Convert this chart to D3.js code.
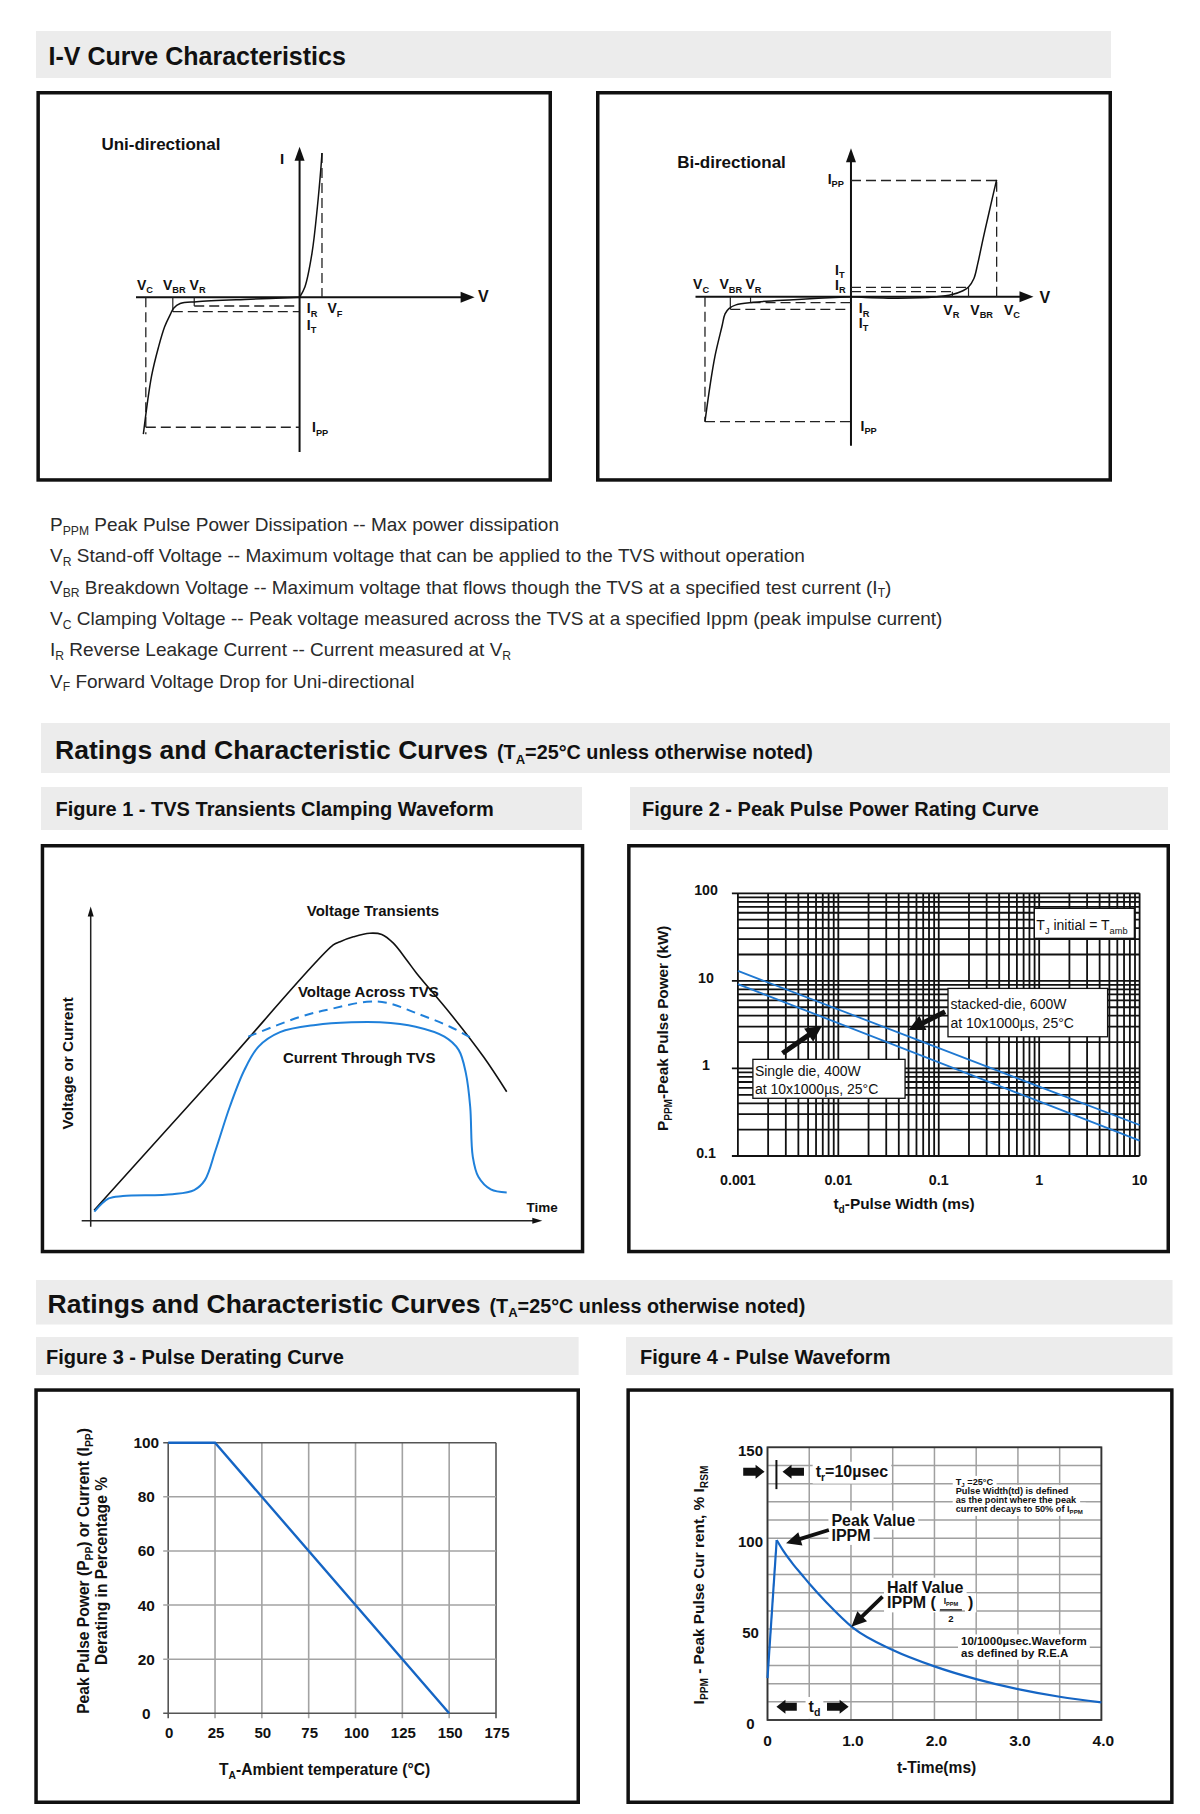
<!DOCTYPE html>
<html>
<head>
<meta charset="utf-8">
<title>TVS I-V Curve Characteristics and Ratings</title>
<script src="https://cdn.jsdelivr.net/npm/d3@7/dist/d3.min.js"></script>
<style>
html,body{margin:0;padding:0;background:#ffffff;}
svg{display:block;}
</style>
</head>
<body>
<svg id="chart" width="1200" height="1814" viewBox="0 0 1200 1814"></svg>
<script>
// ================= DATA =================
// Definition list (text, [string, isSubscript])
const definitionLines = [
  [["P"],["PPM",1],[" Peak Pulse Power Dissipation -- Max power dissipation"]],
  [["V"],["R",1],[" Stand-off Voltage -- Maximum voltage that can be applied to the TVS without operation"]],
  [["V"],["BR",1],[" Breakdown Voltage -- Maximum voltage that flows though the TVS at a specified test current (I"],["T",1],[")"]],
  [["V"],["C",1],[" Clamping Voltage -- Peak voltage measured across the TVS at a specified Ippm (peak impulse current)"]],
  [["I"],["R",1],[" Reverse Leakage Current -- Current measured at V"],["R",1]],
  [["V"],["F",1],[" Forward Voltage Drop for Uni-directional"]]
];

// I-V uni-directional schematic, [V, I] in schematic units
const uniForwardCurve = [[0,0],[0.33,0.69],[0.76,2.86],[1.09,5.86],[1.31,8.44],[1.37,9.33]];
const uniReverseCurve = [[0,0],[-3,-0.12],[-6.3,-0.28],[-7.3,-0.4],[-7.7,-0.7],[-7.9,-1.1],[-8.25,-1.9],[-8.62,-3.2],[-9.05,-5.1],[-9.55,-8.85]];
const uniVoltages = [-9.4, -7.75, -6.44, 1.37];   // VC, VBR, VR, VF
const uniCurrents = [-8.4, -0.93, -0.56, 9.33];   // IPP, IT, IR, IF

// I-V bi-directional schematic
const biRightCurve = [[0,0],[3,-0.1],[5.5,0],[6.5,0.15],[7.2,0.4],[7.56,0.65],[7.9,1.2],[8.15,2.2],[8.5,3.9],[8.87,5.6],[9.2,7.1],[9.37,7.85]];
const biLeftCurve = [[0,0],[-3.7,-0.2],[-6.3,-0.38],[-7.4,-0.55],[-7.85,-0.8],[-8.1,-1.15],[-8.3,-2.0],[-8.75,-4.0],[-9.07,-6.0],[-9.39,-8.39]];
const biVoltages = [-9.39, -7.76, -6.46, 6.52, 7.56, 9.37]; // VC-, VBR-, VR-, VR+, VBR+, VC+
const biCurrents = [-8.39, -0.85, -0.4, 0.34, 0.63, 7.8];    // IPP-, IT-, IR-, IR+, IT+, IPP+

// Figure 1 - clamping waveform [time %, level %]
const voltageTransient = [[0.8,3.5],[30,49.7],[56.5,91.7],[58.1,92.8],[61.2,94.4],[65.0,95.6],[67.8,95.2],[70.5,92.3],[73.6,86.7],[75.9,82.3],[83.7,69.0],[91.5,54.5],[96.9,42.9]];
const voltageAcrossTVS = [[36.7,61.2],[48.8,67.8],[56.5,70.6],[64.3,72.8],[68.9,72.5],[75.9,69.0],[83.7,64.5],[88.7,60.7]];
const currentThroughTVS = [[0.84,3.0],[4.2,7.4],[7.5,8.2],[19.1,8.8],[24.1,10.2],[26.6,13.5],[29.1,23.5],[32.4,37.9],[35.8,50.1],[39.1,57.9],[44.1,62.7],[52.4,65.1],[60.7,66.0],[67.4,66.0],[75.7,64.5],[82.4,61.2],[85.7,56.8],[87.4,49.0],[88.4,37.9],[89.0,21.3],[90.3,14.6],[93.2,10.4],[96.9,9.4]];

// Figure 2 - peak pulse power rating (ms, kW)
const pulseWidthTicks = [0.001, 0.01, 0.1, 1, 10];
const pulseWidthLabels = ["0.001", "0.01", "0.1", "1", "10"];
const powerTicks = [0.1, 1, 10, 100];
const powerLabels = ["0.1", "1", "10", "100"];
const stackedDie = [[0.001,13],[1,0.62],[10,0.226]];
const singleDie = [[0.001,9.2],[1,0.42],[10,0.15]];

// Figure 3 - derating (°C, %)
const tempTicks = [0,25,50,75,100,125,150,175];
const percentTicks = [0,20,40,60,80,100];
const derating = [[0,100],[25,100],[150,0]];

// Figure 4 - pulse waveform (ms, %)
const timeTicks = [0,1,2,3,4];
const timeLabels = ["0","1.0","2.0","3.0","4.0"];
const timeGrid = [0,0.5,1,1.5,2,2.5,3,3.5,4];
const currentTicks = [0,50,100,150];
const currentGrid = [0,10,20,30,40,50,60,70,80,90,100,110,120,130,140,150];
const waveRise = [[0,23],[0.11,99]];
const waveDecay = [[0.11,99],[0.19,93],[0.31,85.5],[0.41,80],[0.51,74.5],[0.71,64.5],[1.03,50.5],[1.5,38.5],[2.0,29.5],[2.5,22.5],[3.0,17],[3.5,12.8],[4.0,9.7]];

// ================= DRAWING =================
const svg = d3.select('#chart');
const FONT = '"Liberation Sans", Arial, Helvetica, sans-serif';
const INK = '#111';
const BLUE1 = '#1f80da';
const BLUE2 = '#1f78d1';
const BLUE3 = '#1565c4';

function label(g, x, y, parts, size, o = {}) {
  const t = g.append('text')
    .attr('x', x).attr('y', y)
    .attr('font-family', FONT)
    .attr('font-size', size)
    .attr('font-weight', o.weight || 'bold')
    .attr('fill', o.fill || INK)
    .attr('text-anchor', o.anchor || 'start');
  if (o.rotate) t.attr('transform', `rotate(${o.rotate},${x},${y})`);
  if (typeof parts === 'string') parts = [[parts]];
  const subSize = size * (o.subScale || 0.66);
  const shift = size * (o.subShift || 0.24);
  let down = false;
  parts.forEach(p => {
    const ts = t.append('tspan').text(p[0]);
    if (p[1]) {
      ts.attr('font-size', subSize);
      if (!down) { ts.attr('dy', shift); down = true; }
    } else if (down) { ts.attr('dy', -shift); down = false; }
  });
  return t;
}
function grayBar(x0, y0, x1, y1) {
  svg.append('rect').attr('x', x0).attr('y', y0).attr('width', x1 - x0).attr('height', y1 - y0).attr('fill', '#ececec');
}
function frame(x0, y0, x1, y1) {
  svg.append('rect').attr('x', x0 + 1.75).attr('y', y0 + 1.75).attr('width', x1 - x0 - 3.5).attr('height', y1 - y0 - 3.5)
    .attr('fill', '#fff').attr('stroke', INK).attr('stroke-width', 3.5);
}
function seg(g, x1, y1, x2, y2, stroke, w, dash) {
  const l = g.append('line').attr('x1', x1).attr('y1', y1).attr('x2', x2).attr('y2', y2)
    .attr('stroke', stroke).attr('stroke-width', w);
  if (dash) l.attr('stroke-dasharray', dash);
  return l;
}
function tri(g, x, y, dir, L, hw) {
  let pts;
  if (dir === 'right') pts = [[x, y], [x - L, y - hw], [x - L, y + hw]];
  else pts = [[x, y], [x - hw, y + L], [x + hw, y + L]];
  g.append('polygon').attr('points', pts.map(p => p.join(',')).join(' ')).attr('fill', INK);
}
function blockArrow(g, x1, y1, x2, y2, sw, hl, hw) {
  const dx = x2 - x1, dy = y2 - y1, L = Math.hypot(dx, dy), ux = dx / L, uy = dy / L, px = -uy, py = ux;
  const bx = x2 - ux * hl, by = y2 - uy * hl;
  const pts = [[x1 + px * sw / 2, y1 + py * sw / 2], [bx + px * sw / 2, by + py * sw / 2], [bx + px * hw, by + py * hw], [x2, y2],
    [bx - px * hw, by - py * hw], [bx - px * sw / 2, by - py * sw / 2], [x1 - px * sw / 2, y1 - py * sw / 2]];
  g.append('polygon').attr('points', pts.map(p => p.join(',')).join(' ')).attr('fill', INK);
}

// ---------- Header 1 ----------
grayBar(36, 31, 1111, 78);
label(svg, 48.5, 65, 'I-V Curve Characteristics', 25);

// ---------- I-V uni-directional ----------
frame(36.4, 91, 552, 481.7);
(function () {
  const g = svg.append('g');
  const xs = d3.scaleLinear().domain([-10, 10.7]).range([136, 474.6]);
  const ys = d3.scaleLinear().domain([-10, 9.74]).range([452, 146.7]);
  const [VC, VBR, VR, VF] = uniVoltages;
  const [IPP, IT, IR, IF] = uniCurrents;
  const dsh = '10,5';
  seg(g, xs(-10), ys(0), xs(10.7) - 12, ys(0), INK, 2);
  seg(g, xs(0), ys(-10), xs(0), ys(9.74) + 12, INK, 2);
  tri(g, xs(10.7), ys(0), 'right', 14, 5.5);
  tri(g, xs(0), ys(9.74), 'up', 14, 5);
  seg(g, xs(VC), ys(0), xs(VC), ys(uniReverseCurve[uniReverseCurve.length - 1][1]), '#222', 1.3, dsh);
  seg(g, xs(VC), ys(IPP), xs(0), ys(IPP), '#222', 1.3, dsh);
  seg(g, xs(VF), ys(IF), xs(VF), ys(0), '#222', 1.3, dsh);
  seg(g, xs(VBR), ys(0), xs(VBR), ys(IT), '#222', 1.2);
  seg(g, xs(VBR), ys(IT), xs(0), ys(IT), '#222', 1.3, dsh);
  seg(g, xs(VR), ys(0), xs(VR), ys(IR), '#222', 1.2);
  seg(g, xs(VR), ys(IR), xs(0), ys(IR), '#222', 1.3, dsh);
  const line = d3.line().x(d => xs(d[0])).y(d => ys(d[1])).curve(d3.curveCatmullRom.alpha(0.5));
  g.append('path').attr('d', line(uniForwardCurve)).attr('fill', 'none').attr('stroke', INK).attr('stroke-width', 1.5);
  g.append('path').attr('d', line(uniReverseCurve)).attr('fill', 'none').attr('stroke', INK).attr('stroke-width', 1.5);
  label(g, 101.4, 150, 'Uni-directional', 17);
  label(g, 280, 164, 'I', 15);
  label(g, 478, 302, 'V', 16);
  label(g, 137, 290, [["V"], ["C", 1]], 14);
  label(g, 163, 290, [["V"], ["BR", 1]], 14);
  label(g, 189.6, 290, [["V"], ["R", 1]], 14);
  label(g, 306.8, 313.3, [["I"], ["R", 1]], 14);
  label(g, 327.5, 313.3, [["V"], ["F", 1]], 14);
  label(g, 306.8, 330, [["I"], ["T", 1]], 14);
  label(g, 312, 432.3, [["I"], ["PP", 1]], 14);
})();

// ---------- I-V bi-directional ----------
frame(596, 91, 1112, 481.7);
(function () {
  const g = svg.append('g');
  const xs = d3.scaleLinear().domain([-10, 11.74]).range([695.5, 1033.5]);
  const ys = d3.scaleLinear().domain([-10, 9.96]).range([445.7, 148.3]);
  const [VCn, VBRn, VRn, VRp, VBRp, VCp] = biVoltages;
  const [IPPn, ITn, IRn, IRp, ITp, IPPp] = biCurrents;
  const dsh = '10,5';
  seg(g, xs(-10), ys(0), xs(11.74) - 12, ys(0), INK, 2);
  seg(g, xs(0), ys(-10), xs(0), ys(9.96) + 12, INK, 2);
  tri(g, xs(11.74), ys(0), 'right', 14, 5.5);
  tri(g, xs(0), ys(9.96), 'up', 14, 5);
  seg(g, xs(VCn), ys(0), xs(VCn), ys(IPPn), '#222', 1.3, dsh);
  seg(g, xs(VCn), ys(IPPn), xs(0), ys(IPPn), '#222', 1.3, dsh);
  seg(g, xs(VBRn), ys(0), xs(VBRn), ys(ITn), '#222', 1.2);
  seg(g, xs(VBRn), ys(ITn), xs(0), ys(ITn), '#222', 1.3, dsh);
  seg(g, xs(VRn), ys(0), xs(VRn), ys(IRn), '#222', 1.2);
  seg(g, xs(VRn), ys(IRn), xs(0), ys(IRn), '#222', 1.3, dsh);
  seg(g, xs(VCp), ys(0), xs(VCp), ys(IPPp), '#222', 1.3, dsh);
  seg(g, xs(0), ys(IPPp), xs(VCp), ys(IPPp), '#222', 1.3, dsh);
  seg(g, xs(VBRp), ys(0), xs(VBRp), ys(ITp), '#222', 1.2);
  seg(g, xs(0), ys(ITp), xs(VBRp), ys(ITp), '#222', 1.3, dsh);
  seg(g, xs(VRp), ys(0), xs(VRp), ys(IRp), '#222', 1.2);
  seg(g, xs(0), ys(IRp), xs(VRp), ys(IRp), '#222', 1.3, dsh);
  const line = d3.line().x(d => xs(d[0])).y(d => ys(d[1])).curve(d3.curveCatmullRom.alpha(0.5));
  g.append('path').attr('d', line(biRightCurve)).attr('fill', 'none').attr('stroke', INK).attr('stroke-width', 1.5);
  g.append('path').attr('d', line(biLeftCurve)).attr('fill', 'none').attr('stroke', INK).attr('stroke-width', 1.5);
  label(g, 677.2, 168.3, 'Bi-directional', 17);
  label(g, 1039.6, 302.7, 'V', 16);
  label(g, 827.7, 184, [["I"], ["PP", 1]], 14);
  label(g, 835, 275, [["I"], ["T", 1]], 14);
  label(g, 835, 290, [["I"], ["R", 1]], 14);
  label(g, 693.1, 289.3, [["V"], ["C", 1]], 14);
  label(g, 719.5, 289.3, [["V"], ["BR", 1]], 14);
  label(g, 745.5, 289.3, [["V"], ["R", 1]], 14);
  label(g, 858.8, 313.3, [["I"], ["R", 1]], 14);
  label(g, 858.8, 327.5, [["I"], ["T", 1]], 14);
  label(g, 943.3, 315, [["V"], ["R", 1]], 14);
  label(g, 970.3, 315, [["V"], ["BR", 1]], 14);
  label(g, 1004, 315, [["V"], ["C", 1]], 14);
  label(g, 860.5, 430.5, [["I"], ["PP", 1]], 14);
})();

// ---------- Definitions ----------
definitionLines.forEach((parts, i) => {
  label(svg, 50, 531 + i * 31.3, parts, 19, { weight: 'normal', fill: '#2a2a2a', subScale: 0.64, subShift: 0.2 });
});

// ---------- Header 2 ----------
function ratingsHeader(x0, y0, x1, y1, tx, ty) {
  grayBar(x0, y0, x1, y1);
  const t = label(svg, tx, ty, 'Ratings and Characteristic Curves', 26.5);
  const w = t.node().getComputedTextLength();
  label(svg, tx + w + 9, ty, [["(T"], ["A", 1], ["=25°C unless otherwise noted)"]], 19.8);
}
ratingsHeader(41, 723, 1170, 773, 55, 759);
grayBar(41, 787, 582, 830);
label(svg, 55.5, 815.5, 'Figure 1 - TVS Transients Clamping Waveform', 20);
grayBar(630, 787, 1168, 830);
label(svg, 642, 815.5, 'Figure 2 - Peak Pulse Power Rating Curve', 20);

// ---------- Figure 1 ----------
frame(40.7, 844, 584.3, 1253.3);
(function () {
  const g = svg.append('g');
  const xs = d3.scaleLinear().domain([0, 100]).range([90.7, 520]);
  const ys = d3.scaleLinear().domain([0, 100]).range([1220.7, 920]);
  seg(g, xs(0), ys(-2), xs(0), ys(104.5) + 8, '#222', 1.5);
  seg(g, xs(-2.1), ys(0), xs(105.2) - 8, ys(0), '#222', 1.5);
  tri(g, xs(0), ys(104.5), 'up', 10, 3);
  tri(g, xs(105.2), ys(0), 'right', 10, 3);
  const line = d3.line().x(d => xs(d[0])).y(d => ys(d[1])).curve(d3.curveCatmullRom.alpha(0.5));
  g.append('path').attr('d', line(voltageTransient)).attr('fill', 'none').attr('stroke', INK).attr('stroke-width', 1.6);
  g.append('path').attr('d', line(voltageAcrossTVS)).attr('fill', 'none').attr('stroke', BLUE1).attr('stroke-width', 2).attr('stroke-dasharray', '9,6');
  g.append('path').attr('d', line(currentThroughTVS)).attr('fill', 'none').attr('stroke', BLUE1).attr('stroke-width', 2);
  label(g, 306.8, 916, 'Voltage Transients', 15);
  label(g, 297.9, 996.7, 'Voltage Across TVS', 15);
  label(g, 282.9, 1062.7, 'Current Through TVS', 15);
  label(g, 526.4, 1211.7, 'Time', 13.5);
  label(g, 73, 1063.3, 'Voltage or Current', 15.2, { rotate: -90, anchor: 'middle' });
})();

// ---------- Figure 2 ----------
frame(627.1, 844, 1170, 1253.3);
(function () {
  const g = svg.append('g');
  const xs = d3.scaleLog().domain([0.001, 10]).range([737.9, 1139.6]);
  const ys = d3.scaleLog().domain([0.1, 100]).range([1156, 893.3]);
  const xGrid = [], yGrid = [];
  pulseWidthTicks.slice(0, -1).forEach(d => { for (let k = 1; k < 10; k++) xGrid.push({ v: d * k, major: k === 1 }); });
  xGrid.push({ v: pulseWidthTicks[pulseWidthTicks.length - 1], major: true });
  powerTicks.slice(0, -1).forEach(d => { for (let k = 1; k < 10; k++) yGrid.push({ v: d * k, major: k === 1 }); });
  yGrid.push({ v: powerTicks[powerTicks.length - 1], major: true });
  g.selectAll('line.vg').data(xGrid).join('line').attr('class', 'vg')
    .attr('x1', d => xs(d.v)).attr('x2', d => xs(d.v))
    .attr('y1', ys(0.1)).attr('y2', ys(100))
    .attr('stroke', INK).attr('stroke-width', 1.8);
  g.selectAll('line.hg').data(yGrid).join('line').attr('class', 'hg')
    .attr('x1', d => xs(0.001) - (d.major ? 6 : 0)).attr('x2', xs(10))
    .attr('y1', d => ys(d.v)).attr('y2', d => ys(d.v))
    .attr('stroke', INK).attr('stroke-width', 1.8);
  powerTicks.forEach((v, i) => label(g, 706, ys(v) + 2, powerLabels[i], 14.2, { anchor: 'middle' }));
  pulseWidthTicks.forEach((v, i) => label(g, xs(v), 1185, pulseWidthLabels[i], 14.3, { anchor: 'middle' }));
  label(g, 904, 1209, [["t"], ["d", 1], ["-Pulse Width (ms)"]], 15.4, { anchor: 'middle' });
  label(g, 668.4, 1028.3, [["P"], ["PPM", 1], ["-Peak Pulse Power (kW)"]], 15.3, { anchor: 'middle', rotate: -90 });
  const line = d3.line().x(d => xs(d[0])).y(d => ys(d[1]));
  g.append('path').attr('d', line(stackedDie)).attr('fill', 'none').attr('stroke', BLUE2).attr('stroke-width', 1.8);
  g.append('path').attr('d', line(singleDie)).attr('fill', 'none').attr('stroke', BLUE2).attr('stroke-width', 1.8);
  function annBox(xa, xb, ya, yb) {
    g.append('rect').attr('x', xs(xa)).attr('y', ys(ya)).attr('width', xs(xb) - xs(xa)).attr('height', ys(yb) - ys(ya))
      .attr('fill', '#fff').attr('stroke', INK).attr('stroke-width', 1.3);
  }
  annBox(0.895, 8.87, 67.3, 30.6);
  label(g, xs(0.895) + 2, ys(67.3) + 22, [["T"], ["J", 1], [" initial = T"], ["amb", 1]], 14, { weight: 'normal' });
  annBox(0.1236, 4.8, 8.2, 2.3);
  label(g, xs(0.1236) + 2.5, ys(8.2) + 21, 'stacked-die, 600W', 14, { weight: 'normal' });
  label(g, xs(0.1236) + 2.5, ys(8.2) + 40, 'at 10x1000µs, 25°C', 14, { weight: 'normal' });
  annBox(0.00141, 0.0462, 1.27, 0.456);
  label(g, xs(0.00141) + 2, ys(1.27) + 16.5, 'Single die, 400W', 14, { weight: 'normal' });
  label(g, xs(0.00141) + 2, ys(1.27) + 34.5, 'at 10x1000µs, 25°C', 14, { weight: 'normal' });
  blockArrow(g, xs(0.00278), ys(1.49), xs(0.00685), ys(3.05), 5, 16, 8);
  blockArrow(g, xs(0.1156), ys(4.44), xs(0.0501), ys(2.74), 5, 16, 8);
})();

// ---------- Header 3 ----------
ratingsHeader(36, 1280, 1172.5, 1324.5, 47.5, 1312.5);
grayBar(36, 1337, 578.6, 1375);
label(svg, 46, 1363.5, 'Figure 3 - Pulse Derating Curve', 20);
grayBar(626, 1337, 1172.5, 1375);
label(svg, 640, 1363.5, 'Figure 4 - Pulse Waveform', 20);

// ---------- Figure 3 ----------
frame(34.3, 1388.3, 580, 1804);
(function () {
  const g = svg.append('g');
  const xs = d3.scaleLinear().domain([0, 175]).range([168.2, 496]);
  const ys = d3.scaleLinear().domain([0, 100]).range([1713.3, 1442.7]);
  g.selectAll('line.vg').data(tempTicks).join('line').attr('class', 'vg')
    .attr('x1', d => xs(d)).attr('x2', d => xs(d)).attr('y1', ys(0) + 5).attr('y2', ys(100))
    .attr('stroke', d => (d === 0 || d === 175) ? '#555' : '#a3a3a3').attr('stroke-width', 1.6);
  g.selectAll('line.hg').data(percentTicks).join('line').attr('class', 'hg')
    .attr('x1', xs(0) - 5).attr('x2', xs(175)).attr('y1', d => ys(d)).attr('y2', d => ys(d))
    .attr('stroke', d => (d === 0 || d === 100) ? '#555' : '#a3a3a3').attr('stroke-width', 1.6);
  percentTicks.forEach(v => label(g, 146.3, ys(v) + 5.5, String(v), 15.4, { anchor: 'middle' }));
  tempTicks.forEach(v => label(g, xs(v) + 1, 1738.3, String(v), 15, { anchor: 'middle' }));
  label(g, 324.6, 1775, [["T"], ["A", 1], ["-Ambient temperature (°C)"]], 15.6, { anchor: 'middle' });
  label(g, 89.2, 1571, [["Peak Pulse Power (P"], ["PP", 1], [") or Current (I"], ["PP", 1], [")"]], 15.6, { anchor: 'middle', rotate: -90 });
  label(g, 107, 1571, 'Derating in Percentage %', 15.6, { anchor: 'middle', rotate: -90 });
  const line = d3.line().x(d => xs(d[0])).y(d => ys(d[1]));
  g.append('path').attr('d', line(derating)).attr('fill', 'none').attr('stroke', BLUE3).attr('stroke-width', 2.4);
})();

// ---------- Figure 4 ----------
frame(626.4, 1388.3, 1173.6, 1804);
(function () {
  const g = svg.append('g');
  const xs = d3.scaleLinear().domain([0, 4]).range([767.5, 1101.4]);
  const ys = d3.scaleLinear().domain([0, 150]).range([1720, 1447.3]);
  const gGrid = g.append('g'), gBg = g.append('g'), gLine = g.append('g'), gTxt = g.append('g');
  gGrid.selectAll('line.vg').data(timeGrid).join('line').attr('class', 'vg')
    .attr('x1', d => xs(d)).attr('x2', d => xs(d)).attr('y1', ys(0)).attr('y2', ys(150))
    .attr('stroke', '#a0a0a0').attr('stroke-width', 1.5);
  gGrid.selectAll('line.hg').data(currentGrid).join('line').attr('class', 'hg')
    .attr('x1', xs(0)).attr('x2', xs(4)).attr('y1', d => ys(d)).attr('y2', d => ys(d))
    .attr('stroke', '#a0a0a0').attr('stroke-width', 1.5);
  gGrid.append('rect').attr('x', xs(0)).attr('y', ys(150)).attr('width', xs(4) - xs(0)).attr('height', ys(0) - ys(150))
    .attr('fill', 'none').attr('stroke', '#333').attr('stroke-width', 1.8);
  currentTicks.forEach(v => label(g, 750.5, ys(v) + 8.5, String(v), 15, { anchor: 'middle' }));
  timeTicks.forEach((v, i) => label(g, xs(v) + (i === 0 ? 0 : 2), 1746, timeLabels[i], 15.5, { anchor: 'middle' }));
  label(g, 936.6, 1773.3, 't-Time(ms)', 15.6, { anchor: 'middle' });
  label(g, 704.2, 1585, [["I"], ["PPM", 1], [" - Peak Pulse Cur rent, % I"], ["RSM", 1]], 15.4, { anchor: 'middle', rotate: -90 });
  const lineL = d3.line().x(d => xs(d[0])).y(d => ys(d[1]));
  const lineC = d3.line().x(d => xs(d[0])).y(d => ys(d[1])).curve(d3.curveMonotoneX);
  gLine.append('path').attr('d', lineL(waveRise)).attr('fill', 'none').attr('stroke', BLUE3).attr('stroke-width', 2.2);
  gLine.append('path').attr('d', lineC(waveDecay)).attr('fill', 'none').attr('stroke', BLUE3).attr('stroke-width', 2.2);
  function ann(x, y, parts, size, o) {
    const t = label(gTxt, x, y, parts, size, o);
    const b = t.node().getBBox();
    gBg.append('rect').attr('x', b.x - 3).attr('y', b.y - 1).attr('width', b.width + 6).attr('height', b.height + 2).attr('fill', '#fff');
    return t;
  }
  ann(xs(0.577), ys(133.8), [["t"], ["r", 1], ["=10µsec"]], 16);
  seg(gTxt, xs(0.107), ys(143), xs(0.107), ys(127), INK, 2);
  blockArrow(gTxt, xs(-0.291), ys(136.6), xs(-0.035), ys(136.6), 8, 9, 7);
  blockArrow(gTxt, xs(0.437), ys(136.6), xs(0.18), ys(136.6), 8, 9, 7);
  ann(xs(0.766), ys(106.9), 'Peak Value', 16);
  ann(xs(0.766), ys(98.5), 'IPPM', 16);
  blockArrow(gTxt, xs(0.735), ys(104.5), xs(0.222), ys(97.2), 3.8, 15, 7);
  ann(xs(1.432), ys(70), 'Half Value', 16);
  const ip = ann(xs(1.432), ys(61.4), 'IPPM (', 16);
  const fx = xs(1.432) + ip.node().getComputedTextLength() + 4;
  ann(fx + 11, ys(61.4) - 4, [["I"], ["PPM", 1]], 8.5, { anchor: 'middle' });
  seg(gTxt, fx, ys(61.4) + 1.5, fx + 22, ys(61.4) + 1.5, INK, 1.3);
  ann(fx + 11, ys(61.4) + 14, '2', 9.5, { anchor: 'middle' });
  ann(fx + 28, ys(61.4), ')', 16);
  blockArrow(gTxt, xs(1.378), ys(67.8), xs(1.005), ys(51.3), 3.8, 15, 7);
  ann(xs(2.255), ys(129.3), [["T"], ["J", 1], [" =25°C"]], 9.2);
  ann(xs(2.255), ys(124.3), 'Pulse Width(td) is defined', 9.2);
  ann(xs(2.255), ys(119.3), 'as the point where the peak', 9.2);
  ann(xs(2.255), ys(114.6), [["current decays to 50% of I"], ["PPM", 1]], 9.2);
  ann(xs(2.318), ys(41), '10/1000µsec.Waveform', 11.5);
  ann(xs(2.318), ys(34.8), 'as defined by R.E.A', 11.5);
  blockArrow(gTxt, xs(0.351), ys(7.3), xs(0.107), ys(7.3), 8, 9, 7);
  ann(xs(0.492), ys(4.4), [["t"], ["d", 1]], 16);
  blockArrow(gTxt, xs(0.713), ys(7.3), xs(0.972), ys(7.3), 8, 9, 7);
})();
</script>
</body>
</html>
